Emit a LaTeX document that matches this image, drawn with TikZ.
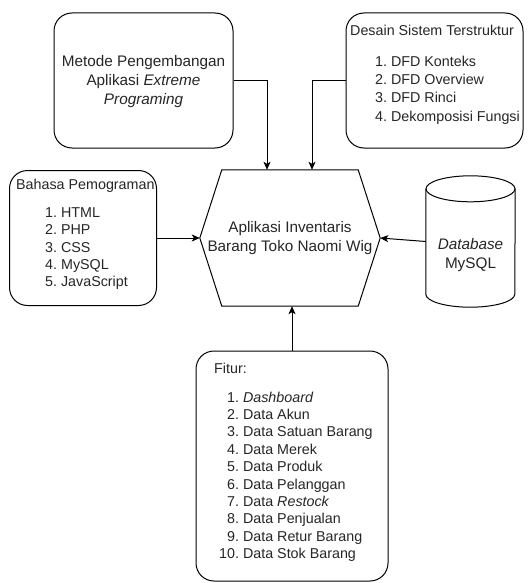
\documentclass[tikz,border=0pt]{standalone}
\usepackage{fontspec}
\setmainfont{Liberation Sans}
\usetikzlibrary{arrows.meta,calc}
\begin{document}
\begin{tikzpicture}[x=1pt,y=-1pt,
  every node/.style={font=\fontsize{15.3}{19}\selectfont, text=black!85},
  box/.style={draw, line width=1pt, rounded corners=18pt, inner sep=0pt},
  shapeline/.style={draw, line width=1pt},
  conn/.style={draw, line width=1pt, -{Stealth[length=8pt,width=7pt,inset=2pt]}},
  title/.style={inner sep=0pt, anchor=base west, font=\fontsize{14.3}{17.4}\selectfont},
  itemlist/.style={inner sep=0pt, anchor=base west, align=left}
]
% canvas
\fill[white] (0,0) rectangle (527,583);
\useasboundingbox (0,0) rectangle (527,583);

% central process
\node[inner sep=0pt, minimum width=180, minimum height=136, align=center] (hex) at (290,238)
  {Aplikasi Inventaris\\Barang Toko Naomi Wig};
\draw[shapeline] (hex.west) -- ($(hex.north west)+(22,0)$) -- ($(hex.north east)+(-22,0)$)
  -- (hex.east) -- ($(hex.south east)+(-22,0)$) -- ($(hex.south west)+(22,0)$) -- cycle;

% development method
\node[box, minimum width=179, minimum height=135] (metode) at (143.5,80.5) {};
\node[align=center, inner sep=0pt] (metodetxt) at (143.5,81.4)
  {Metode Pengembangan\\Aplikasi \textit{Extreme}\\\textit{Programing}};

% structured design
\node[box, minimum width=177, minimum height=135] (desain) at (434.5,80.5) {};
\node[title] (desainttl) at (350,35.8) {Desain Sistem Terstruktur};
\node[itemlist, font=\fontsize{14.3}{18.1}\selectfont] (desainlist) at (375,66.8)
  {\begin{tabular}[t]{@{}r@{\ }l@{}}
   1.&DFD Konteks\\
   2.&DFD Overview\\
   3.&DFD Rinci\\
   4.&Dekomposisi Fungsi
   \end{tabular}};

% programming languages
\node[box, minimum width=147, minimum height=135] (bahasa) at (83,238) {};
\node[title] (bahasattl) at (16,189.2) {Bahasa Pemograman};
\node[itemlist, font=\fontsize{14.3}{17.2}\selectfont] (bahasalist) at (45,217.6)
  {\begin{tabular}[t]{@{}r@{\ }l@{}}
   1.&HTML\\
   2.&PHP\\
   3.&CSS\\
   4.&MySQL\\
   5.&JavaScript
   \end{tabular}};

% database
\node[inner sep=0pt, minimum width=89, minimum height=131] (db) at (470.5,241.5) {};
\path (db.north) ++(0,13) coordinate (dbtop);
\draw[shapeline] (dbtop) ellipse [x radius=44.5, y radius=13];
\draw[shapeline] ($(db.north west)+(0,13)$) -- ($(db.south west)+(0,-13)$)
  arc[start angle=180, end angle=0, x radius=44.5, y radius=13]
  -- ($(db.north east)+(0,13)$);
\node[align=center, inner sep=0pt] (dbtxt) at (470.5,255) {\textit{Database}\\MySQL};

% features
\node[box, minimum width=192, minimum height=230] (fitur) at (292,466) {};
\node[title] (fiturttl) at (214,373.1) {Fitur:};
\node[itemlist, font=\fontsize{14.3}{17.4}\selectfont] (fiturlist) at (219,402.1)
  {\begin{tabular}[t]{@{}r@{\ }l@{}}
   1.&\textit{Dashboard}\\
   2.&Data Akun\\
   3.&Data Satuan Barang\\
   4.&Data Merek\\
   5.&Data Produk\\
   6.&Data Pelanggan\\
   7.&Data \textit{Restock}\\
   8.&Data Penjualan\\
   9.&Data Retur Barang\\
   10.&Data Stok Barang
   \end{tabular}};

% connectors
\draw[conn] (metode.east) -| ($(hex.north)+(-23,0)$);
\draw[conn] (desain.west) -| ($(hex.north)+(22,0)$);
\draw[conn] (bahasa.east) -- (hex.west);
\draw[conn] (db.west) -- (hex.east);
\draw[conn] (fitur.north) -- (fitur.north |- hex.south);
\end{tikzpicture}
\end{document}
